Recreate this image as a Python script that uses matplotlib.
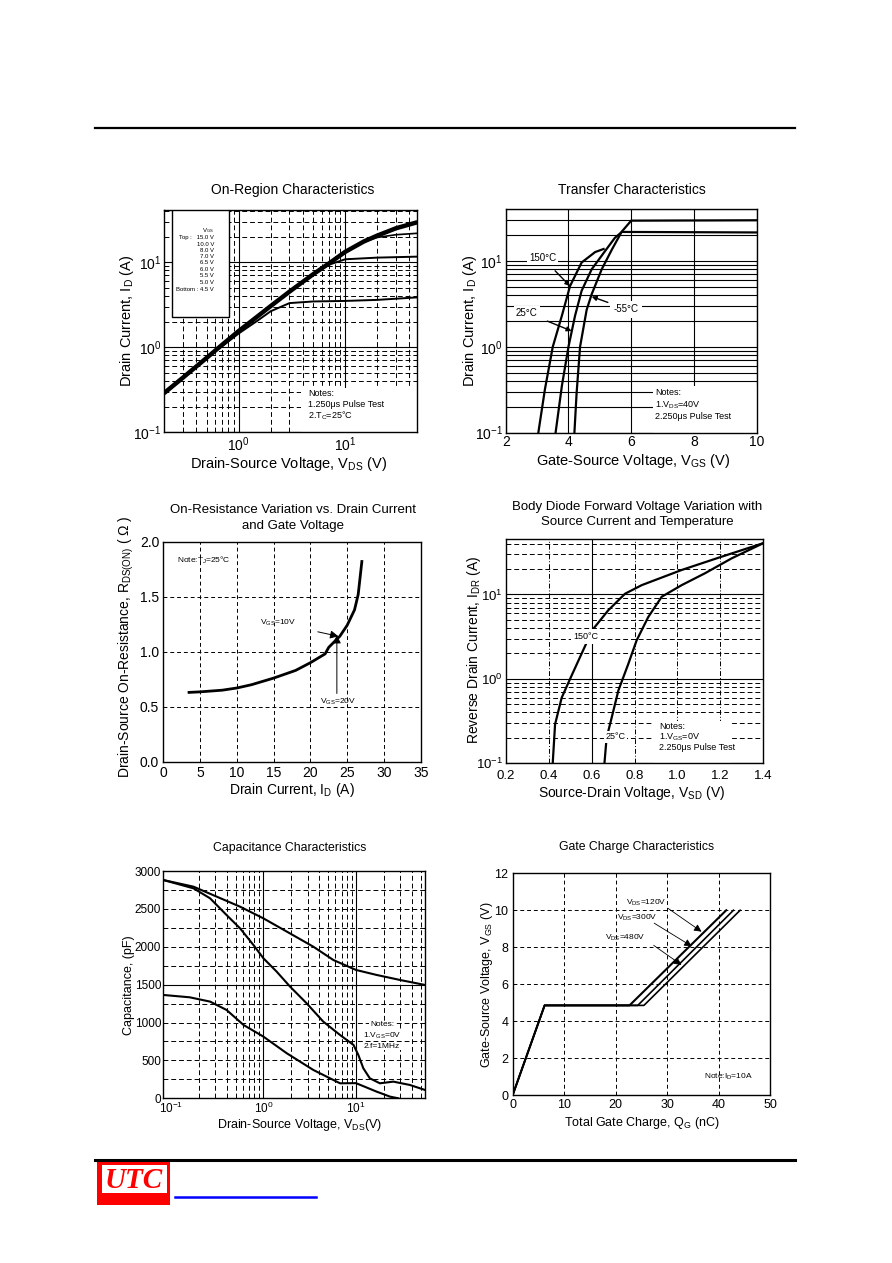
import matplotlib
matplotlib.use("Agg")
import matplotlib.pyplot as plt
from matplotlib.patches import Rectangle
from matplotlib.lines import Line2D
from matplotlib.ticker import LogLocator, MultipleLocator, FormatStrFormatter, NullFormatter

plt.rcParams['font.family'] = ['Liberation Sans', 'DejaVu Sans']
plt.rcParams['mathtext.default'] = 'regular'

# ---------------- data ----------------
# On-Region Characteristics
onr_vds_top = [0.2, 0.3, 0.5, 0.7, 1.0, 1.5, 2, 3, 5, 7, 10, 15, 20, 30, 47]
onr_id_top = [0.29, 0.44, 0.75, 1.07, 1.55, 2.3, 3.05, 4.5, 7.2, 9.6, 13.2, 17.5, 20.5, 25.0, 29.3]
onr_vds_22 = [10, 15, 20, 30, 47]
onr_id_22 = [13.2, 17.2, 19.5, 21.0, 21.8]
onr_vds_11 = [5, 7, 10, 20, 47]
onr_id_11 = [7.1, 9.3, 10.8, 11.3, 11.6]
onr_vds_bot = [0.7, 1.0, 1.5, 2, 3, 5, 10, 20, 47]
onr_id_bot = [1.03, 1.45, 2.05, 2.65, 3.3, 3.45, 3.5, 3.6, 3.85]
legend_lines = ["V$_{GS}$", "Top :   15.0 V", "10.0 V", "8.0 V", "7.0 V", "6.5 V",
                "6.0 V", "5.5 V", "5.0 V", "Bottom : 4.5 V"]

# Transfer Characteristics
tr_vgs_150 = [3.04, 3.25, 3.5, 3.79, 4.05, 4.42, 4.85, 5.12]
tr_id_150 = [0.1, 0.32, 1.0, 2.3, 5.1, 9.6, 12.7, 13.8]
tr_vgs_25 = [3.59, 3.79, 4.0, 4.21, 4.42, 4.74, 5.17, 5.48, 5.7, 10]
tr_id_25 = [0.1, 0.35, 1.0, 2.3, 4.5, 8.0, 13.1, 18.6, 21.8, 21.5]
tr_vgs_m55 = [4.19, 4.26, 4.37, 4.58, 4.74, 5.06, 5.38, 5.7, 6.0, 10]
tr_id_m55 = [0.1, 0.29, 1.0, 2.7, 4.1, 8.0, 13.5, 22.0, 29.5, 29.8]

# On-Resistance
ron_id = [3.5, 5, 8, 10, 12, 15, 18, 20, 22, 22.5, 24, 25, 26, 26.5, 27]
ron_r = [0.63, 0.635, 0.65, 0.67, 0.70, 0.76, 0.83, 0.90, 0.98, 1.04, 1.14, 1.24, 1.38, 1.52, 1.82]

# Body diode
bd_vsd_150 = [0.419, 0.43, 0.461, 0.5, 0.554, 0.604, 0.678, 0.756, 0.834, 1.02, 1.206, 1.4]
bd_is_150 = [0.1, 0.29, 0.6, 1.0, 2.0, 3.8, 6.5, 10.2, 12.9, 19.5, 28.0, 40.5]
bd_vsd_25 = [0.66, 0.67, 0.694, 0.725, 0.771, 0.81, 0.864, 0.927, 1.02, 1.128, 1.253, 1.4]
bd_is_25 = [0.1, 0.2, 0.35, 0.73, 1.5, 2.86, 5.4, 9.4, 12.9, 17.8, 26.8, 40.5]

# Capacitance
cap_vds_iss = [0.083, 0.176, 0.314, 0.56, 1.0, 1.79, 3.46, 5.7, 10, 16.7, 29.8, 55.6]
cap_iss = [2881, 2793, 2661, 2529, 2375, 2200, 2001, 1825, 1694, 1628, 1562, 1496]
cap_vds_oss = [0.083, 0.176, 0.266, 0.40, 0.56, 0.78, 1.0, 1.39, 1.94, 2.93, 4.43, 6.72, 9.4,
               10.6, 12.0, 14.1, 18.1, 25.3, 38.2, 55.6]
cap_oss = [2881, 2771, 2639, 2419, 2243, 2024, 1848, 1672, 1474, 1254, 1012, 836, 704,
           572, 396, 264, 198, 220, 176, 110]
cap_vds_rss = [0.083, 0.16, 0.266, 0.40, 0.61, 1.0, 1.79, 3.46, 6.72, 10, 16.7, 23.3, 28.6]
cap_rss = [1364, 1333, 1276, 1166, 968, 814, 594, 374, 198, 200, 88, 22, 0]

# Gate charge
gc_q_120 = [0, 6.2, 22.7, 41.5]
gc_q_300 = [0, 6.2, 24.3, 42.9]
gc_q_480 = [0, 6.2, 25.5, 44.2]
gc_vgs = [0, 4.85, 4.85, 10]

# ---------------- figure ----------------
W, H = 892, 1263
fig = plt.figure(figsize=(W / 100, H / 100), dpi=100)


def add_ax(l, t, r, b):
    return fig.add_axes([l / W, 1 - b / H, (r - l) / W, (b - t) / H])


def ftext(x, y, s, **kw):
    fig.text(x / W, 1 - y / H, s, **kw)


def style(ax, fs=10, pad=3):
    for sp in ax.spines.values():
        sp.set_linewidth(1.0)
        sp.set_color('black')
    ax.tick_params(which='both', length=0, labelsize=fs, pad=pad)


# header / footer
fig.add_artist(Line2D([95 / W, 795 / W], [1 - 128 / H, 1 - 128 / H], color='black', lw=1.6))
fig.add_artist(Line2D([95 / W, 795 / W], [1 - 1160 / H, 1 - 1160 / H], color='black', lw=2.2))
fig.add_artist(Rectangle((97 / W, 1 - 1205 / H), 73 / W, 45 / H, facecolor='#ff0000',
                         edgecolor='none', transform=fig.transFigure))
fig.add_artist(Rectangle((102 / W, 1 - 1192.5 / H), 64.5 / W, 27.5 / H, facecolor='white',
                         edgecolor='none', transform=fig.transFigure))
ftext(134, 1180, "UTC", color='#ff0000', fontsize=21, fontweight='bold', style='italic',
      family='Liberation Serif', ha='center', va='center')
fig.add_artist(Line2D([175 / W, 316 / W], [1 - 1196.5 / H, 1 - 1196.5 / H], color='#0000ff', lw=1.8))

# ---------- Chart 1: On-Region ----------
ax1 = add_ax(164.3, 210, 416.7, 432.3)
ax1.set_xscale('log')
ax1.set_yscale('log')
ax1.set_xlim(0.2, 47)
ax1.set_ylim(0.1, 41)
ax1.grid(which='major', color='black', lw=0.8, ls='-')
ax1.grid(which='minor', color='black', lw=0.7, ls=(0, (5, 3)))
ax1.plot(onr_vds_top, onr_id_top, color='black', lw=3.2, solid_capstyle='round')
ax1.plot(onr_vds_22, onr_id_22, color='black', lw=1.2)
ax1.plot(onr_vds_11, onr_id_11, color='black', lw=1.4)
ax1.plot(onr_vds_bot, onr_id_bot, color='black', lw=1.4)
ax1.xaxis.set_minor_formatter(NullFormatter())
ax1.yaxis.set_minor_formatter(NullFormatter())
style(ax1, 10, pad=2)
ax1.add_patch(Rectangle((0.03, 0.52), 0.225, 0.48, transform=ax1.transAxes, facecolor='white',
                        edgecolor='black', lw=1.0, zorder=3))
leg_y = [231, 237.7, 244, 250.3, 256.7, 263, 269.3, 275.7, 282.3, 289.3]
for yy, s in zip(leg_y, legend_lines):
    ftext(214, yy, s, fontsize=4.3, ha='right', va='center', zorder=5)
ax1.add_patch(Rectangle((0.54, 0.0), 0.46, 0.2, transform=ax1.transAxes, facecolor='white',
                        edgecolor='none', zorder=2))
for yy, s in zip([393.5, 404.5, 416], ["Notes:", "1.250\u03bcs Pulse Test", "2.T$_C$=25\u00b0C"]):
    ftext(308, yy, s, fontsize=6.5, ha='left', va='center')
ftext(293, 190, "On-Region Characteristics", fontsize=10, ha='center', va='center')
ftext(289, 464, "Drain-Source Voltage, V$_{DS}$ (V)", fontsize=10.5, ha='center', va='center')
ftext(127, 321, "Drain Current, I$_D$ (A)", fontsize=10.5, ha='center', va='center', rotation=90)

# ---------- Chart 2: Transfer ----------
ax2 = add_ax(505.7, 209.3, 756.7, 432.7)
ax2.set_yscale('log')
ax2.set_xlim(2, 10)
ax2.set_ylim(0.1, 40)
ax2.set_xticks([2, 4, 6, 8, 10])
ax2.grid(which='major', color='black', lw=0.8, ls='-')
ax2.grid(which='minor', axis='y', color='black', lw=0.8, ls='-')
ax2.plot(tr_vgs_150, tr_id_150, color='black', lw=1.6)
ax2.plot(tr_vgs_25, tr_id_25, color='black', lw=1.6)
ax2.plot(tr_vgs_m55, tr_id_m55, color='black', lw=1.6)
ax2.yaxis.set_minor_formatter(NullFormatter())
style(ax2, 10, pad=2)
bb = dict(facecolor='white', edgecolor='none', pad=1.5)
ax2.annotate("150\u00b0C", xy=(4.05, 5.1), xytext=(3.17, 10.9), fontsize=7, ha='center',
             va='center', bbox=bb,
             arrowprops=dict(arrowstyle='-|>', color='black', lw=1.0, shrinkA=6, shrinkB=0))
ax2.annotate("25\u00b0C", xy=(4.1, 1.53), xytext=(2.67, 2.5), fontsize=7, ha='center',
             va='center', bbox=bb,
             arrowprops=dict(arrowstyle='-|>', color='black', lw=1.0, shrinkA=6, shrinkB=0))
ax2.annotate("-55\u00b0C", xy=(4.74, 3.85), xytext=(5.45, 2.75), fontsize=7, ha='left',
             va='center', bbox=dict(facecolor='white', edgecolor='none', pad=2.5),
             arrowprops=dict(arrowstyle='-|>', color='black', lw=1.0, shrinkA=2, shrinkB=0))
ax2.add_patch(Rectangle((0.585, 0.0), 0.415, 0.21, transform=ax2.transAxes, facecolor='white',
                        edgecolor='none', zorder=2))
for yy, s in zip([392.3, 405, 416.7], ["Notes:", "1.V$_{DS}$=40V", "2.250\u03bcs Pulse Test"]):
    ftext(655, yy, s, fontsize=6.5, ha='left', va='center')
ftext(632, 190, "Transfer Characteristics", fontsize=10, ha='center', va='center')
ftext(633, 461, "Gate-Source Voltage, V$_{GS}$ (V)", fontsize=10.5, ha='center', va='center')
ftext(470, 321, "Drain Current, I$_D$ (A)", fontsize=10.5, ha='center', va='center', rotation=90)

# ---------- Chart 3: On-Resistance ----------
ax3 = add_ax(163.3, 541.7, 420.7, 761.7)
ax3.set_xlim(0, 35)
ax3.set_ylim(0, 2.0)
ax3.set_xticks(range(0, 36, 5))
ax3.set_yticks([0, 0.5, 1.0, 1.5, 2.0])
ax3.yaxis.set_major_formatter(FormatStrFormatter('%.1f'))
ax3.grid(which='major', color='black', lw=0.7, ls=(0, (4, 3)))
ax3.plot(ron_id, ron_r, color='black', lw=2.0)
style(ax3, 10)
ax3.annotate("V$_{GS}$=10V", xy=(23.8, 1.14), xytext=(15.6, 1.26), fontsize=6, ha='center',
             va='center', arrowprops=dict(arrowstyle='-|>', color='black', lw=0.7, shrinkA=14,
                                          shrinkB=0, mutation_scale=12))
ax3.annotate("", xy=(23.6, 1.15), xytext=(23.6, 0.62),
             arrowprops=dict(arrowstyle='-|>', color='black', lw=0.7, shrinkA=0, shrinkB=0,
                             mutation_scale=12))
ax3.text(23.8, 0.545, "V$_{GS}$=20V", fontsize=6, ha='center', va='center')
ax3.text(1.8, 1.83, "Note:T$_J$=25\u00b0C", fontsize=6, ha='left', va='center')
ftext(293, 510, "On-Resistance Variation vs. Drain Current", fontsize=9.5, ha='center', va='center')
ftext(293, 526, "and Gate Voltage", fontsize=9.5, ha='center', va='center')
ftext(292, 790, "Drain Current, I$_D$ (A)", fontsize=10, ha='center', va='center')
ftext(126, 647, "Drain-Source On-Resistance, R$_{DS(ON)}$ ( \u03a9 )", fontsize=10, ha='center',
      va='center', rotation=90)

# ---------- Chart 4: Body Diode ----------
ax4 = add_ax(505.7, 539.3, 763.3, 763.3)
ax4.set_yscale('log')
ax4.set_xlim(0.2, 1.4)
ax4.set_ylim(0.1, 45)
ax4.set_xticks([0.2, 0.4, 0.6, 0.8, 1.0, 1.2, 1.4])
ax4.xaxis.set_major_formatter(FormatStrFormatter('%.1f'))
ax4.grid(which='major', axis='y', color='black', lw=0.8, ls='-')
ax4.grid(which='minor', axis='y', color='black', lw=0.7, ls=(0, (5, 3)))
for xv in [0.4, 0.8, 1.0, 1.2]:
    ax4.axvline(xv, color='black', lw=0.7, ls=(0, (5, 2, 1, 2)))
ax4.axvline(0.6, color='black', lw=0.8, ls='-')
ax4.plot(bd_vsd_150, bd_is_150, color='black', lw=1.6)
ax4.plot(bd_vsd_25, bd_is_25, color='black', lw=1.6)
ax4.yaxis.set_minor_formatter(NullFormatter())
style(ax4, 9.5, pad=2)
ax4.tick_params(axis='x', pad=5)
ax4.text(0.575, 3.2, "150\u00b0C", fontsize=6.5, ha='center', va='center',
         bbox=dict(facecolor='white', edgecolor='none', pad=2))
ax4.text(0.71, 0.205, "25\u00b0C", fontsize=6.5, ha='center', va='center',
         bbox=dict(facecolor='white', edgecolor='none', pad=1))
ax4.add_patch(Rectangle((0.575, 0.0), 0.3, 0.19, transform=ax4.transAxes, facecolor='white',
                        edgecolor='none', zorder=2))
for yy, s in zip([726.7, 737, 747.5], ["Notes:", "1.V$_{GS}$=0V", "2.250\u03bcs Pulse Test"]):
    ftext(659, yy, s, fontsize=6.5, ha='left', va='center')
ftext(637, 507, "Body Diode Forward Voltage Variation with", fontsize=9.5, ha='center', va='center')
ftext(637, 522, "Source Current and Temperature", fontsize=9.5, ha='center', va='center')
ftext(632, 793, "Source-Drain Voltage, V$_{SD}$ (V)", fontsize=10, ha='center', va='center')
ftext(474, 650, "Reverse Drain Current, I$_{DR}$ (A)", fontsize=10, ha='center', va='center',
      rotation=90)

# ---------- Chart 5: Capacitance ----------
ax5 = add_ax(163.3, 871, 425, 1098.3)
ax5.set_xscale('log')
ax5.set_xlim(0.083, 55.6)
ax5.set_ylim(0, 3000)
ax5.set_yticks(range(0, 3001, 500))
ax5.yaxis.set_minor_locator(MultipleLocator(250))
ax5.xaxis.set_major_locator(LogLocator(base=10, numticks=10))
ax5.grid(which='both', axis='y', color='black', lw=0.7, ls=(0, (5, 3)))
for dec in [0.1, 1.0, 10.0]:
    for m in range(2, 10):
        xv = dec * m
        if xv <= 55:
            ax5.axvline(xv, color='black', lw=0.7, ls=(0, (5, 3)))
for xv in [1.0, 10.0]:
    ax5.axvline(xv, color='black', lw=0.8, ls='-')
ax5.axhline(1500, color='black', lw=0.8)
ax5.plot(cap_vds_iss, cap_iss, color='black', lw=1.5)
ax5.plot(cap_vds_oss, cap_oss, color='black', lw=1.5)
ax5.plot(cap_vds_rss, cap_rss, color='black', lw=1.5)
ax5.xaxis.set_minor_formatter(NullFormatter())
style(ax5, 8.5, pad=1.5)
for yy, s in zip([1025, 1035.5, 1046], ["Notes:", "1.V$_{GS}$=0V", "2.f=1MHz"]):
    ftext(382, yy, s, fontsize=6, ha='center', va='center',
          bbox=dict(facecolor='white', edgecolor='none', pad=0.5))
ftext(290, 848, "Capacitance Characteristics", fontsize=8.8, ha='center', va='center')
ftext(300, 1125, "Drain-Source Voltage, V$_{DS}$(V)", fontsize=9, ha='center', va='center')
ftext(129, 985, "Capacitance, (pF)", fontsize=9, ha='center', va='center', rotation=90)

# ---------- Chart 6: Gate Charge ----------
ax6 = add_ax(512.7, 873.3, 770, 1095)
ax6.set_xlim(0, 50)
ax6.set_ylim(0, 12)
ax6.set_xticks(range(0, 51, 10))
ax6.set_yticks(range(0, 13, 2))
ax6.grid(which='major', color='black', lw=0.7, ls=(0, (4, 3)))
ax6.plot(gc_q_120, gc_vgs, color='black', lw=1.5)
ax6.plot(gc_q_300, gc_vgs, color='black', lw=1.2)
ax6.plot(gc_q_480, gc_vgs, color='black', lw=1.2)
style(ax6, 9)
ap = dict(arrowstyle='-|>', color='black', lw=0.6, shrinkA=0, shrinkB=0, mutation_scale=11)
ax6.text(26.0, 10.38, "V$_{DS}$=120V", fontsize=6, ha='center', va='center')
ax6.annotate("", xy=(36.7, 8.84), xytext=(30.2, 10.1), arrowprops=ap)
ax6.text(24.1, 9.57, "V$_{DS}$=300V", fontsize=6, ha='center', va='center')
ax6.annotate("", xy=(34.8, 8.05), xytext=(27.5, 9.3), arrowprops=ap)
ax6.text(21.8, 8.48, "V$_{DS}$=480V", fontsize=6, ha='center', va='center')
ax6.annotate("", xy=(32.8, 7.04), xytext=(27.4, 8.1), arrowprops=ap)
ax6.text(41.9, 0.99, "Note:I$_D$=10A", fontsize=6, ha='center', va='center')
ftext(637, 847, "Gate Charge Characteristics", fontsize=8.8, ha='center', va='center')
ftext(642, 1123, "Total Gate Charge, Q$_G$ (nC)", fontsize=9, ha='center', va='center')
ftext(487, 985, "Gate-Source Voltage, V$_{GS}$ (V)", fontsize=9, ha='center', va='center',
      rotation=90)

fig.savefig("out.png", dpi=100)
